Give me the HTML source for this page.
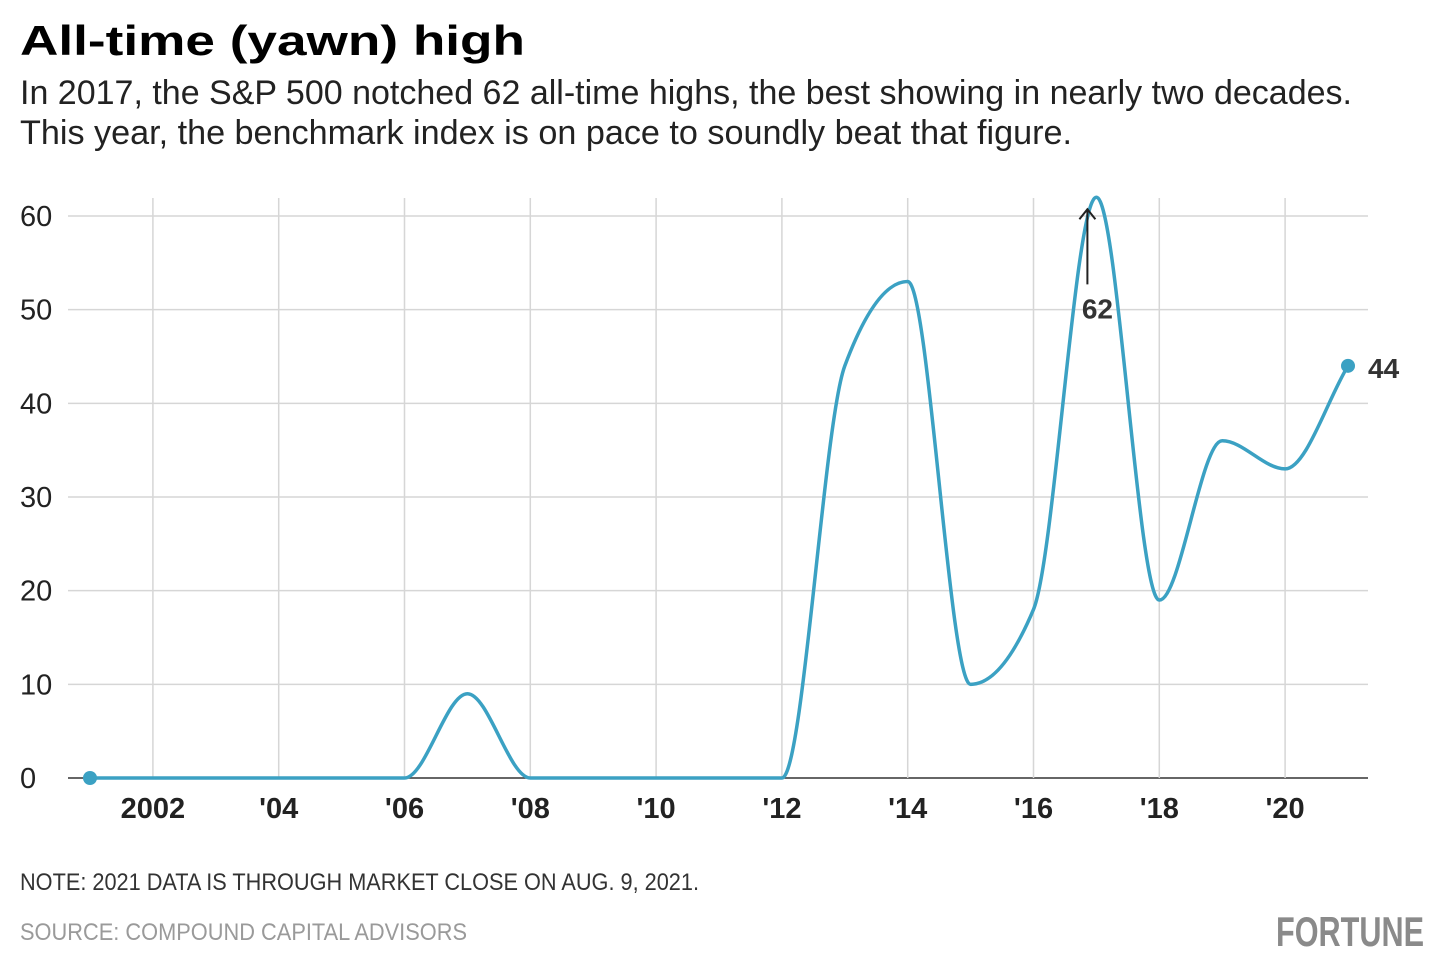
<!DOCTYPE html>
<html><head><meta charset="utf-8"><style>
html,body{margin:0;padding:0;background:#fff;}
svg{display:block;font-family:"Liberation Sans",sans-serif;}
</style></head><body>
<svg id="chart" width="1440" height="975" viewBox="0 0 1440 975">
<text x="20" y="55" font-size="42" font-weight="900" fill="#000" textLength="505" lengthAdjust="spacingAndGlyphs">All-time (yawn) high</text>
<text x="20" y="104" font-size="34" fill="#222" textLength="1332" lengthAdjust="spacingAndGlyphs">In 2017, the S&amp;P 500 notched 62 all-time highs, the best showing in nearly two decades.</text>
<text x="20" y="144" font-size="34" fill="#222" textLength="1052" lengthAdjust="spacingAndGlyphs">This year, the benchmark index is on pace to soundly beat that figure.</text>
<g id="grid"></g>
<g id="yticks"></g>
<g id="xticks"></g>
<path id="line" fill="none" stroke="#3ba1c3" stroke-width="3.5"></path>
<g id="marks"></g>
<text x="20" y="890" font-size="24" fill="#333" textLength="679" lengthAdjust="spacingAndGlyphs">NOTE: 2021 DATA IS THROUGH MARKET CLOSE ON AUG. 9, 2021.</text>
<text x="20" y="940" font-size="24" fill="#9a9a9a" textLength="447" lengthAdjust="spacingAndGlyphs">SOURCE: COMPOUND CAPITAL ADVISORS</text>
<text x="1276" y="946" font-size="42" font-weight="700" fill="#8a8a8a" textLength="148" lengthAdjust="spacingAndGlyphs">FORTUNE</text>
</svg>
<script>
const years=[2001,2002,2003,2004,2005,2006,2007,2008,2009,2010,2011,2012,2013,2014,2015,2016,2017,2018,2019,2020,2021];
const highs=[0,0,0,0,0,0,9,0,0,0,0,0,44,53,10,18,62,19,36,33,44];
const yTicks=[0,10,20,30,40,50,60];
const xTickYears=[2002,2004,2006,2008,2010,2012,2014,2016,2018,2020];
const xTickLabels=["2002","'04","'06","'08","'10","'12","'14","'16","'18","'20"];
const NS="http://www.w3.org/2000/svg";
const x=v=>90+(v-2001)*62.9;
const y=v=>778-v*9.367;
function mk(tag,attrs,parent,txt){const e=document.createElementNS(NS,tag);for(const k in attrs)e.setAttribute(k,attrs[k]);if(txt!==undefined)e.textContent=txt;parent.appendChild(e);return e;}
const grid=document.getElementById('grid'),yt=document.getElementById('yticks'),xt=document.getElementById('xticks'),marks=document.getElementById('marks');
yTicks.forEach(t=>{
 const l=mk('line',{x1:68,x2:1368,y1:y(t),y2:y(t),stroke:t===0?'#333':'#d6d6d6','stroke-width':1.5},grid);
 
 
 const tx=mk('text',{x:20,y:y(t)+10,'font-size':29,fill:'#222'},yt,String(t));
 
 
});
xTickYears.forEach((yr,i)=>{
 const l=mk('line',{x1:x(yr),x2:x(yr),y1:198,y2:778,stroke:'#d6d6d6','stroke-width':1.5},grid);
 
 
 const tx=mk('text',{x:x(yr),y:818,'font-size':29,'font-weight':700,fill:'#222','text-anchor':'middle'},xt,xTickLabels[i]);
 
 
});
const px=years.map(x),py=highs.map(y),n=px.length;
const d=[],m=[];
for(let i=0;i<n-1;i++)d.push((py[i+1]-py[i])/(px[i+1]-px[i]));
for(let i=0;i<n;i++){
 if(i===0)m.push(d[0]);else if(i===n-1)m.push(d[n-2]);
 else{ if(d[i-1]*d[i]<=0)m.push(0); else{const h0=px[i]-px[i-1],h1=px[i+1]-px[i];const p=(d[i-1]*h1+d[i]*h0)/(h0+h1);m.push((Math.sign(d[i-1])+Math.sign(d[i]))*Math.min(Math.abs(d[i-1]),Math.abs(d[i]),0.5*Math.abs(p)));}}
}
let path=`M${px[0]},${py[0]}`;
for(let i=0;i<n-1;i++){const h=(px[i+1]-px[i])/3;path+=`C${px[i]+h},${py[i]+m[i]*h} ${px[i+1]-h},${py[i+1]-m[i+1]*h} ${px[i+1]},${py[i+1]}`;}
document.getElementById('line').setAttribute('d',path);
const d0=mk('circle',{cx:px[0],cy:py[0],r:7,fill:'#3ba1c3'},marks);


const d1=mk('circle',{cx:px[n-1],cy:py[n-1],r:7,fill:'#3ba1c3'},marks);


const endLbl=mk('text',{x:px[n-1]+20,y:py[n-1]+12,'font-size':28,'font-weight':700,fill:'#333'},marks,String(highs[n-1]));


const pk=highs.indexOf(Math.max(...highs));
const ax=px[pk]-9;
const arrow=mk('path',{d:`M${ax},${y(52.7)} L${ax},${py[pk]+12} M${ax-8},${py[pk]+22} L${ax},${py[pk]+12} L${ax+8},${py[pk]+22}`,stroke:'#222','stroke-width':2,fill:'none'},marks);


const pl=mk('text',{x:ax+10,y:y(52.7)+34,'font-size':28,'font-weight':700,fill:'#333','text-anchor':'middle'},marks,String(highs[pk]));


</script>
</body></html>
